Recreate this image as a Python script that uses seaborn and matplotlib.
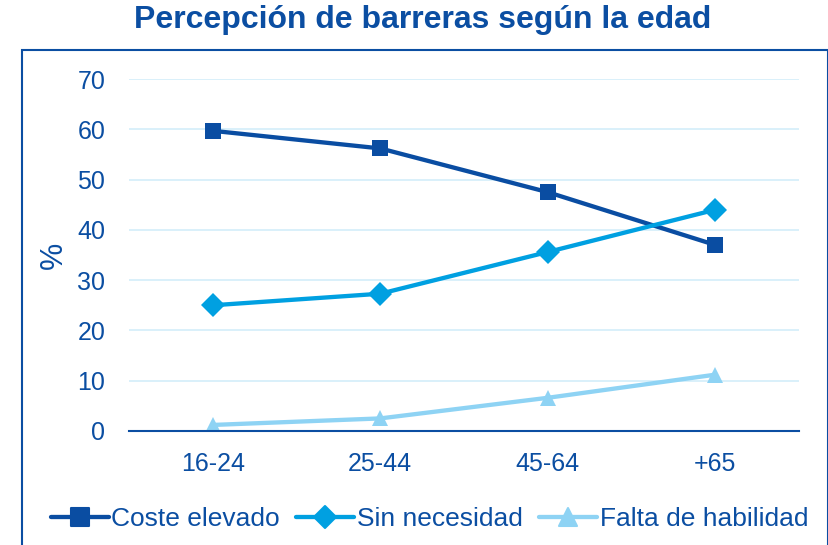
import matplotlib
import matplotlib.pyplot as plt
import pandas as pd
import seaborn as sns
from matplotlib.markers import MarkerStyle
from matplotlib.patches import Rectangle

matplotlib.use("Agg")

edades = ["16-24", "25-44", "45-64", "+65"]
coste_elevado = [59.7, 56.2, 47.5, 37.0]
sin_necesidad = [25.0, 27.3, 35.6, 44.0]
falta_habilidad = [1.2, 2.5, 6.6, 11.2]

series = ["Coste elevado", "Sin necesidad", "Falta de habilidad"]

TEXT = "#0B4EA2"
COLORS = {"Coste elevado": "#0A4DA2", "Sin necesidad": "#00A0E1", "Falta de habilidad": "#8ED3F4"}
MARKERS = {"Coste elevado": "s", "Sin necesidad": "D", "Falta de habilidad": "^"}
MARKER_SIZES = {"Coste elevado": 12.5, "Sin necesidad": 11, "Falta de habilidad": 13.5}


def build_frame() -> pd.DataFrame:
    rows = []
    for name, values in zip(series, [coste_elevado, sin_necesidad, falta_habilidad]):
        for edad, v in zip(edades, values):
            rows.append({"edad": edad, "valor": v, "serie": name})
    return pd.DataFrame(rows)


def style_marker(line, label):
    # rounded marker corners like the original office chart
    line.set_marker(MarkerStyle(MARKERS[label], joinstyle="round"))
    line.set_markersize(MARKER_SIZES[label])
    line.set_markeredgecolor(COLORS[label])
    line.set_markerfacecolor(COLORS[label])
    line.set_markeredgewidth(1.5)


def main() -> None:
    sns.set_theme(style="white")
    plt.rcParams["font.family"] = ["Liberation Sans", "DejaVu Sans"]

    df = build_frame()

    fig = plt.figure(figsize=(8.29, 5.45), dpi=100, facecolor="white")
    ax = fig.add_axes([0.1556, 0.2092, 0.8082, 0.6458])

    sns.lineplot(
        data=df,
        x="edad",
        y="valor",
        hue="serie",
        style="serie",
        hue_order=series,
        style_order=series,
        palette=COLORS,
        markers=MARKERS,
        dashes=False,
        linewidth=3.1,
        markersize=12,
        markeredgewidth=0,
        ax=ax,
    )

    for line in ax.lines:
        if line.get_label() in MARKERS:
            style_marker(line, line.get_label())

    ax.set_xlim(-0.5, 3.5)
    ax.set_ylim(0, 70)
    ax.set_yticks(range(0, 71, 10))
    ax.yaxis.grid(True, color="#D3EDFA", linewidth=1.2)
    ax.set_axisbelow(True)

    for side in ["top", "right", "left"]:
        ax.spines[side].set_visible(False)
    ax.spines["bottom"].set_color(TEXT)
    ax.spines["bottom"].set_linewidth(1.5)

    ax.set_xticks(range(len(edades)))
    ax.set_xticklabels(edades)
    ax.set_xticks([-0.5, 0.5, 1.5, 2.5, 3.5], minor=True)
    ax.tick_params(axis="x", which="major", length=0, pad=15, labelsize=18, labelcolor=TEXT)
    ax.tick_params(axis="x", which="minor", length=7, width=1.5, color=TEXT, direction="out")
    ax.tick_params(axis="y", length=0, pad=17, labelsize=18, labelcolor=TEXT)

    ax.set_xlabel("")
    ax.set_ylabel("%", fontsize=22, color=TEXT)
    ax.yaxis.set_label_coords(-0.09, 0.5)

    handles, labels = ax.get_legend_handles_labels()
    for h, lab in zip(handles, labels):
        if lab in MARKERS:
            style_marker(h, lab)
    ax.legend(
        handles,
        labels,
        loc="center",
        bbox_to_anchor=(0.518, 0.048),
        bbox_transform=fig.transFigure,
        ncol=3,
        frameon=False,
        fontsize=19,
        handlelength=2.2,
        handletextpad=0.1,
        columnspacing=0.62,
        labelcolor=TEXT,
    )

    fig.suptitle(
        "Percepción de barreras según la edad",
        x=0.51,
        y=0.99,
        fontsize=23,
        fontweight="bold",
        color=TEXT,
    )

    fig.patches.append(
        Rectangle(
            (0.0265, -0.01), 0.972, 0.918,
            transform=fig.transFigure,
            fill=False,
            edgecolor=TEXT,
            linewidth=1.5,
        )
    )

    fig.savefig("out.png", dpi=100)
    plt.close(fig)


if __name__ == "__main__":
    main()
